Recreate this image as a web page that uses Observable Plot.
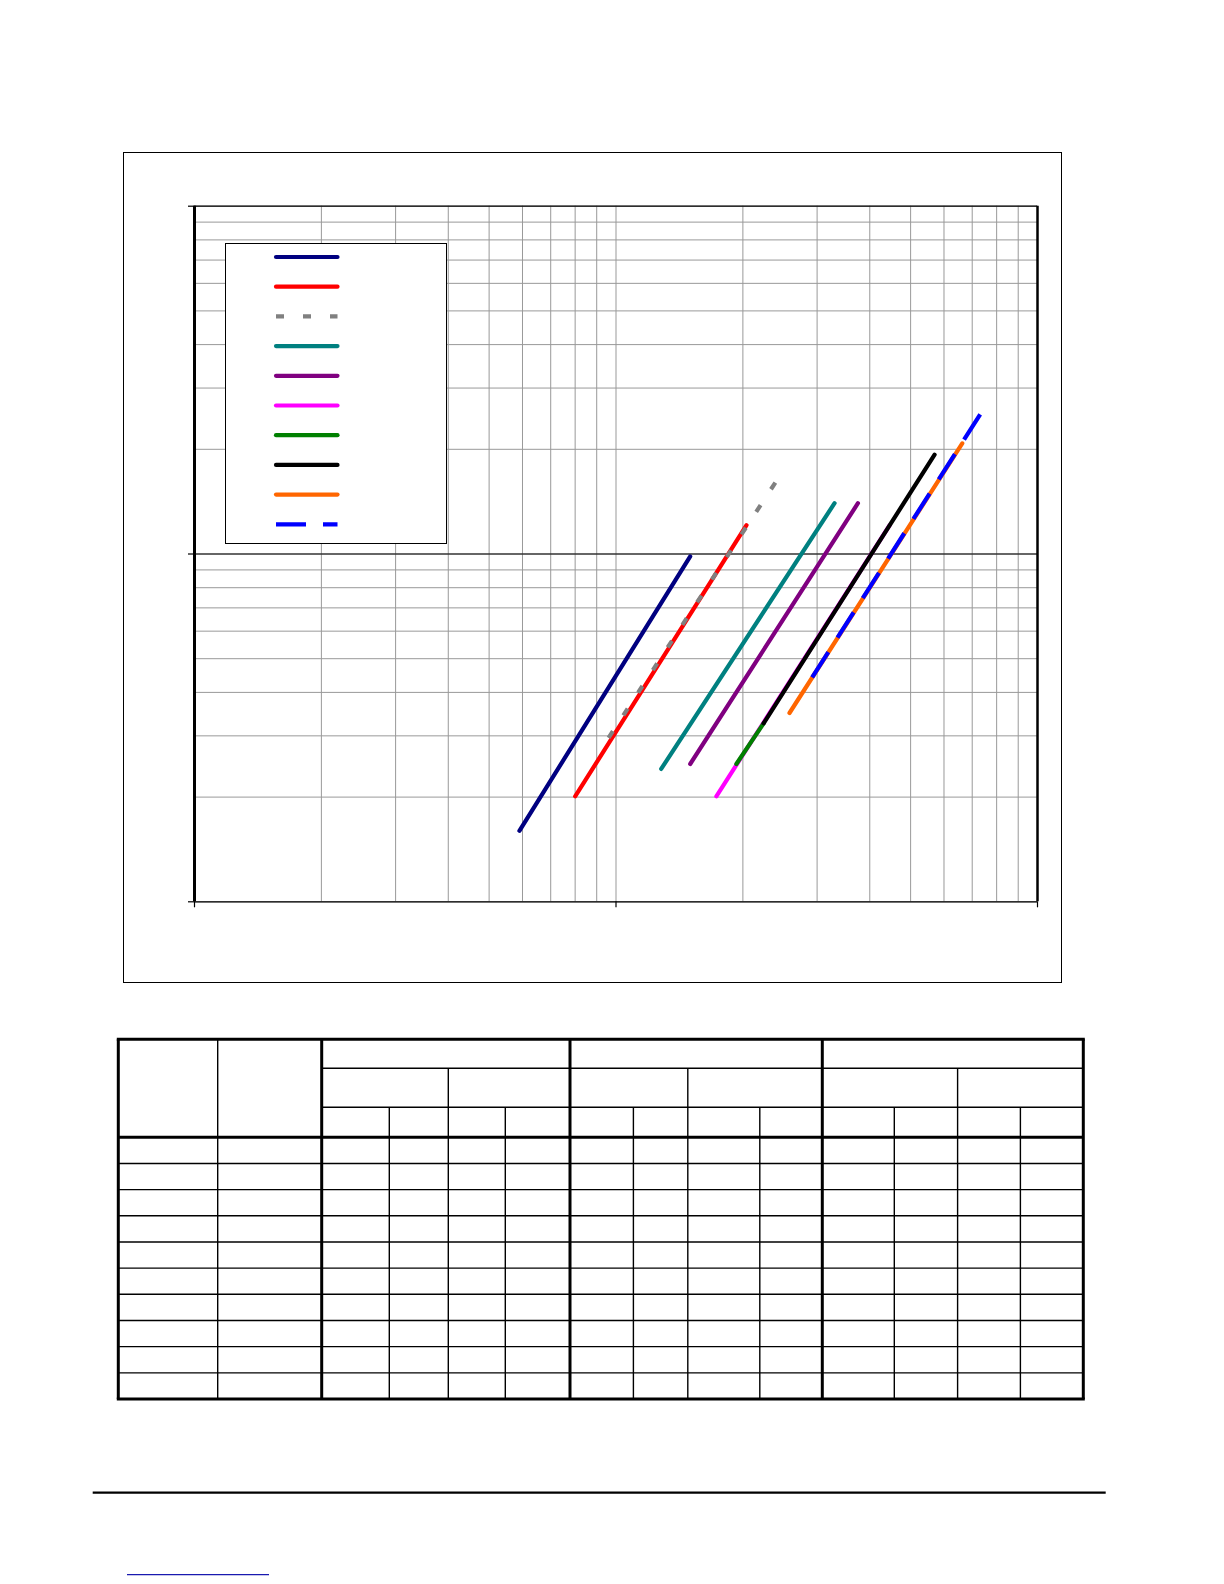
<!DOCTYPE html>
<html>
<head>
<meta charset="utf-8">
<script src="https://cdn.jsdelivr.net/npm/d3@7"></script>
<script src="https://cdn.jsdelivr.net/npm/@observablehq/plot@0.6"></script>
<style>
  html, body { margin: 0; padding: 0; background: #fff; }
  #page { position: relative; width: 1224px; height: 1584px; overflow: hidden; font-family: "Liberation Sans", Arial, sans-serif; }
  #chart { position: absolute; left: 0; top: 0; }
  #outer { position: absolute; left: 122.7px; top: 152px; width: 939.3px; height: 831px; border: 1.3px solid #000; box-sizing: border-box; pointer-events: none; }
  #legend { position: absolute; left: 225px; top: 243px; width: 222px; height: 301px; border: 1.2px solid #000; box-sizing: border-box; background: #fff; }
  #table { position: absolute; left: 0; top: 0; }
</style>
</head>
<body>
<div id="page">
  <div id="chart"></div>
  <div id="outer"></div>
  <div id="legend"></div>
  <div id="table"></div>
</div>
<script>
// ---- data ----
const xDomain = [1, 100];
const yDomain = [1, 100];
const gridTicks = [1, 2, 3, 4, 5, 6, 7, 8, 9, 10, 20, 30, 40, 50, 60, 70, 80, 90, 100];
const majorTicks = [1, 10, 100];

const seriesIds = ["s1", "s2", "s3", "s4", "s5", "s6", "s7", "s8", "s9", "s10"];
const startX = [5.9, 8.0, 9.6, 12.8, 15.0, 17.3, 19.3, 22.4, 25.8, 29.2];
const startY = [1.6, 2.01, 2.96, 2.41, 2.49, 2.01, 2.49, 3.26, 3.49, 4.42];
const endX   = [15.0, 20.4, 24.4, 33.0, 37.5, 44.6, 22.4, 57.0, 66.3, 73.9];
const endY   = [9.84, 12.1, 16.7, 14.0, 14.0, 12.1, 3.26, 19.3, 20.8, 25.7];

// ---- styles ----
const seriesColors = ["#000080", "#ff0000", "#808080", "#008080", "#800080", "#ff00ff", "#008000", "#000000", "#ff6600", "#0000ff"];
const seriesDash   = [null, null, "8,19", null, null, null, null, null, null, "30,17"];

const rows = seriesIds.map((id, i) => ({id, x1: startX[i], y1: startY[i], x2: endX[i], y2: endY[i]}));

const lineMarks = rows.map((r, i) => Plot.link([r], {
  x1: "x1", y1: "y1", x2: "x2", y2: "y2",
  stroke: seriesColors[i],
  strokeWidth: 4.2,
  strokeLinecap: seriesDash[i] ? "butt" : "round",
  strokeDasharray: seriesDash[i] || undefined
}));

const chart = Plot.plot({
  width: 1224,
  height: 1000,
  marginLeft: 194,
  marginRight: 187,
  marginTop: 205.7,
  marginBottom: 98.7,
  x: {type: "log", domain: xDomain, axis: null},
  y: {type: "log", domain: yDomain, axis: null},
  marks: [
    Plot.ruleX(gridTicks, {stroke: "#999", strokeWidth: 1}),
    Plot.ruleY(gridTicks, {stroke: "#999", strokeWidth: 1}),
    Plot.ruleY([10], {stroke: "#000", strokeWidth: 1.2}),
    Plot.ruleY([1, 100], {stroke: "#000", strokeWidth: 1.3}),
    Plot.ruleX([1], {stroke: "#000", strokeWidth: 3}),
    Plot.ruleX([100], {stroke: "#000", strokeWidth: 2.5}),
    Plot.axisY({ticks: majorTicks, tickSize: 6, tickFormat: () => "", stroke: "#000", strokeWidth: 1.2}),
    Plot.axisX({ticks: majorTicks, tickSize: 6, tickFormat: () => "", stroke: "#000", strokeWidth: 1.2}),
    ...lineMarks
  ]
});
chart.style.background = "transparent";
document.getElementById("chart").appendChild(chart);

// ---- legend (swatches only, as in the reference) ----
const leg = d3.select("#legend").append("svg").attr("width", 220).attr("height", 299)
  .style("position", "absolute").style("left", "0").style("top", "0");
seriesIds.forEach((id, i) => {
  const y = 13 + i * 29.7;
  leg.append("line")
    .attr("x1", 50).attr("x2", 111.5).attr("y1", y).attr("y2", y)
    .attr("stroke", seriesColors[i]).attr("stroke-width", 4.2)
    .attr("stroke-linecap", seriesDash[i] ? "butt" : "round")
    .attr("stroke-dasharray", seriesDash[i]);
});

// ---- table (empty grid as in the reference) ----
const colEdges = [118.3, 217.7, 321.7, 389.3, 448.3, 505.3, 570, 633.4, 687.8, 759.8, 822.3, 894.3, 957.6, 1020.4, 1083.3];
const thickCols = [0, 2, 6, 10, 14];
const subGroupCols = [4, 8, 12];
const headerRows = [1039.3, 1068.3, 1107.3, 1137.3];
const tableBottom = 1399;
const dataRowCount = 10;

const tsvg = d3.select("#table").append("svg").attr("width", 1224).attr("height", 1584);
const rowStep = (tableBottom - headerRows[3]) / dataRowCount;
const hline = (y, xa, xb, w) => tsvg.append("line").attr("x1", xa).attr("x2", xb).attr("y1", y).attr("y2", y).attr("stroke", "#000").attr("stroke-width", w);
const vline = (x, ya, yb, w) => tsvg.append("line").attr("x1", x).attr("x2", x).attr("y1", ya).attr("y2", yb).attr("stroke", "#000").attr("stroke-width", w);
const L = colEdges[0], R = colEdges[colEdges.length - 1];
hline(headerRows[1], colEdges[2], R, 1.4);
hline(headerRows[2], colEdges[2], R, 1.4);
for (let k = 1; k < dataRowCount; k++) hline(headerRows[3] + k * rowStep, L, R, 1.4);
colEdges.forEach((x, i) => {
  if (thickCols.includes(i)) return;
  if (i === 1) vline(x, headerRows[0], tableBottom, 1.4);
  else if (subGroupCols.includes(i)) vline(x, headerRows[1], tableBottom, 1.4);
  else vline(x, headerRows[2], tableBottom, 1.4);
});
hline(headerRows[0], L - 1.5, R + 1.5, 3);
hline(headerRows[3], L, R, 3);
hline(tableBottom, L - 1.5, R + 1.5, 3);
thickCols.forEach(i => vline(colEdges[i], headerRows[0], tableBottom, 3));

// footer rule and link underline
hline(1492.7, 92.7, 1105.7, 2.2);
tsvg.append("line").attr("x1", 127).attr("x2", 269).attr("y1", 1574.7).attr("y2", 1574.7).attr("stroke", "#1a1ab0").attr("stroke-width", 1.2);
</script>
</body>
</html>
